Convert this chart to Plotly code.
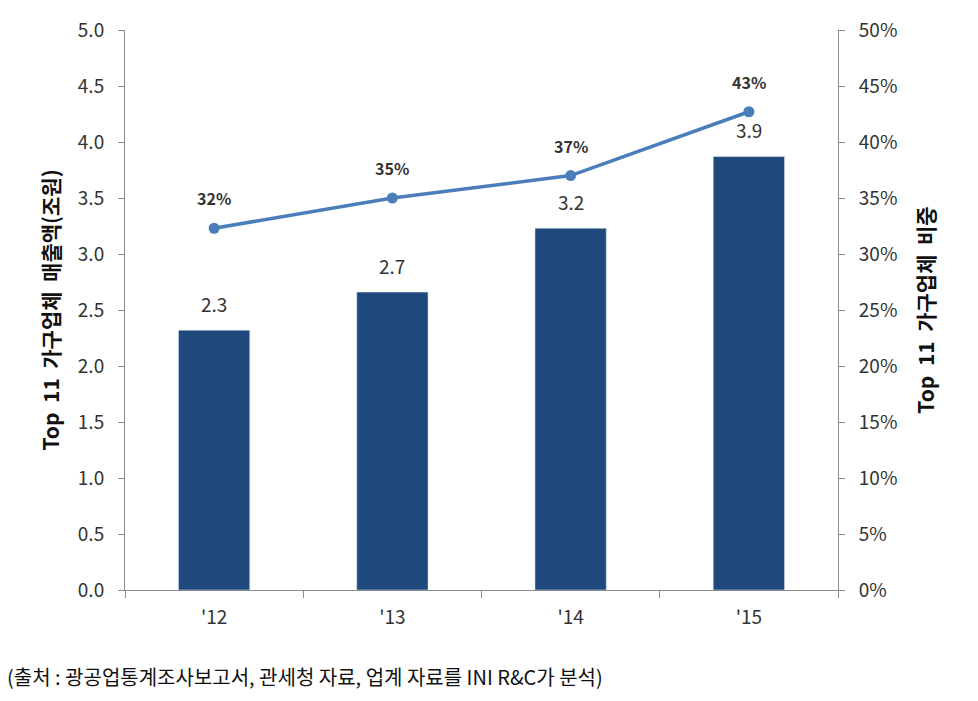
import plotly.graph_objects as go

years = ["'12", "'13", "'14", "'15"]
sales = [2.32, 2.66, 3.23, 3.87]      # 조원
share = [32.3, 35.0, 37.0, 42.7]      # %

bar_color = "#1F497D"
line_color = "#4A7EBB"
font_main = "Noto Sans CJK KR"

fig = go.Figure()
fig.add_trace(go.Bar(x=years, y=sales, marker_color=bar_color, width=0.4,
                     yaxis="y", showlegend=False, hoverinfo="skip"))
fig.add_trace(go.Scatter(x=years, y=share, mode="lines+markers", yaxis="y2",
                         line=dict(color=line_color, width=3.5),
                         marker=dict(size=11, color=line_color),
                         showlegend=False, hoverinfo="skip"))

ann = []
for x, v in zip(years, sales):
    ann.append(dict(x=x, y=v, xref="x", yref="y", text=f"{v:.1f}", showarrow=False,
                    yshift=27, font=dict(size=19, color="#333333", family=font_main)))
for x, v in zip(years, share):
    ann.append(dict(x=x, y=v, xref="x", yref="y2", text=f"<b>{round(v):d}%</b>", showarrow=False,
                    yshift=30, font=dict(size=16, color="#333333", family=font_main)))
ann.append(dict(x=-0.168, y=-0.154, xref="paper", yref="paper", xanchor="left", yanchor="middle",
                text="(출처 : 광공업통계조사보고서, 관세청 자료, 업계 자료를 INI R&C가 분석)",
                showarrow=False, font=dict(size=20, color="#111111", family=font_main)))

tickfont = dict(size=19, color="#333333", family=font_main)
fig.update_layout(
    width=978, height=701,
    margin=dict(l=125, r=140, t=30, b=111),
    plot_bgcolor="white", paper_bgcolor="white",
    annotations=ann,
    xaxis=dict(type="category", range=[-0.5, 3.5], showline=True, linecolor="#8c8c8c", linewidth=1,
               ticks="outside", tickson="boundaries", ticklen=7, tickcolor="#8c8c8c",
               ticklabelstandoff=10, tickfont=tickfont, showgrid=False),
    yaxis=dict(range=[0, 5], dtick=0.5, tickformat=".1f", showgrid=False, zeroline=False,
               showline=True, linecolor="#8c8c8c", linewidth=1, ticks="outside", ticklen=6,
               tickcolor="#8c8c8c", ticklabelstandoff=10, tickfont=tickfont,
               title=dict(text="<b>Top  11  가구업체  매출액(조원)</b>", standoff=12,
                          font=dict(size=21, color="#111111", family=font_main))),
    yaxis2=dict(range=[0, 50], dtick=5, ticksuffix="%", overlaying="y", side="right",
                showgrid=False, zeroline=False, showline=True, linecolor="#8c8c8c", linewidth=1,
                ticks="outside", ticklen=6, tickcolor="#8c8c8c", ticklabelstandoff=10,
                tickfont=tickfont,
                title=dict(text="<b>Top  11  가구업체  비중</b>", standoff=22,
                           font=dict(size=21, color="#111111", family=font_main))),
)

fig.write_html("out.html")
